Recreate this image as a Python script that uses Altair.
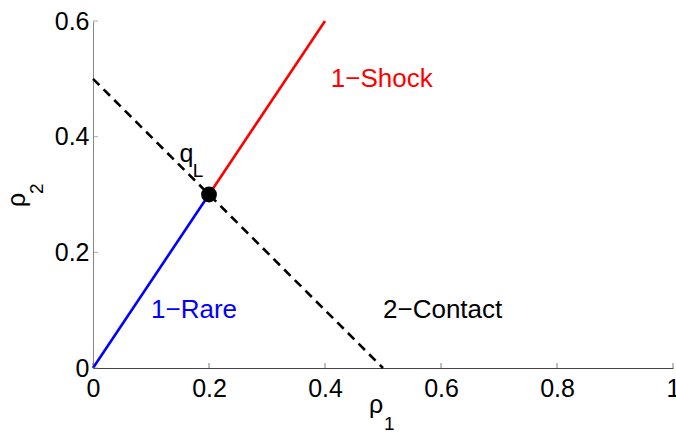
import altair as alt
import pandas as pd

# Wave curves through the left state q_L
rare_x = [0.0, 0.2]
rare_y = [0.0, 0.3]
shock_x = [0.2, 0.4]
shock_y = [0.3, 0.6]
contact_x = [0.0, 0.5]
contact_y = [0.5, 0.0]
state_x = [0.2]
state_y = [0.3]

x_ticks = [0, 0.2, 0.4, 0.6, 0.8, 1]
y_ticks = [0, 0.2, 0.4, 0.6]

label_text = ["1\u2212Shock", "1\u2212Rare", "2\u2212Contact"]
label_x = [0.41, 0.1, 0.5]
label_y = [0.5, 0.1, 0.1]
label_color = ["#ff0000", "#0000ff", "#000000"]

# q with subscript L
q_x, q_y = [0.149], [0.356]
sub_x, sub_y = [0.172], [0.33]

W, H = 580, 347
FONT = "Liberation Sans"
FS = 25
LFS = 26
SUB = 19

xs = alt.Scale(domain=[0, 1], nice=False, zero=False)
ys = alt.Scale(domain=[0, 0.6], nice=False, zero=False)

x_enc = alt.X(
    "x:Q", scale=xs,
    axis=alt.Axis(values=x_ticks, format="~g", ticks=False, grid=False, title=None,
                  labelFont=FONT, labelFontSize=FS, labelColor="black", labelPadding=8,
                  labelFlush=False, labelOverlap=False, domainColor="#444", domainWidth=1),
)
y_enc = alt.Y(
    "y:Q", scale=ys,
    axis=alt.Axis(values=y_ticks, format="~g", ticks=False, grid=False, title=None,
                  labelFont=FONT, labelFontSize=FS, labelColor="black", labelPadding=4,
                  labelFlush=False, labelOverlap=False, domainColor="#888", domainWidth=1),
)


def seg(xv, yv):
    return pd.DataFrame({"x": xv, "y": yv})


rare = alt.Chart(seg(rare_x, rare_y)).mark_line(color="#0000ff", strokeWidth=2.6).encode(x=x_enc, y=y_enc)
shock = alt.Chart(seg(shock_x, shock_y)).mark_line(color="#ff0000", strokeWidth=2.6).encode(x=x_enc, y=y_enc)
contact = alt.Chart(seg(contact_x, contact_y)).mark_line(
    color="black", strokeWidth=2.6, strokeDash=[9, 6]
).encode(x=x_enc, y=y_enc)
state = alt.Chart(seg(state_x, state_y)).mark_circle(color="black", opacity=1, size=250).encode(x=x_enc, y=y_enc)

labels = alt.Chart(pd.DataFrame({"x": label_x, "y": label_y, "t": label_text, "c": label_color})).mark_text(
    font=FONT, fontSize=LFS, align="left", baseline="middle"
).encode(x=x_enc, y=y_enc, text="t:N", color=alt.Color("c:N", scale=None))

q_mark = alt.Chart(seg(q_x, q_y)).mark_text(
    text="q", font=FONT, fontSize=FS, align="left", baseline="alphabetic", color="black"
).encode(x=x_enc, y=y_enc)
sub_mark = alt.Chart(seg(sub_x, sub_y)).mark_text(
    text="L", font=FONT, fontSize=SUB, align="left", baseline="alphabetic", color="black"
).encode(x=x_enc, y=y_enc)

# Inward tick marks on both axes
xt = alt.Chart(pd.DataFrame({"x": x_ticks})).mark_tick(color="#444", thickness=1, size=5).encode(
    x=x_enc, y=alt.value(H - 2.5)
)
yt = alt.Chart(pd.DataFrame({"y": y_ticks})).mark_tick(color="#888", thickness=1, size=5).encode(
    y=y_enc, x=alt.value(2.5)
)

one = pd.DataFrame({"k": [0]})
x_title = alt.Chart(one).mark_text(text="\u03c1", font=FONT, fontSize=FS, align="center",
                                   baseline="alphabetic", color="black").encode(
    x=alt.value(283), y=alt.value(392))
x_title_sub = alt.Chart(one).mark_text(text="1", font=FONT, fontSize=SUB, align="left",
                                       baseline="alphabetic", color="black").encode(
    x=alt.value(291), y=alt.value(409))
y_title = alt.Chart(one).mark_text(text="\u03c1", font=FONT, fontSize=FS, align="center",
                                   baseline="alphabetic", angle=270, color="black").encode(
    x=alt.value(-68), y=alt.value(179))
y_title_sub = alt.Chart(one).mark_text(text="2", font=FONT, fontSize=SUB, align="left",
                                       baseline="alphabetic", angle=270, color="black").encode(
    x=alt.value(-50), y=alt.value(173))

chart = alt.layer(
    rare, shock, contact, state, labels, q_mark, sub_mark, xt, yt,
    x_title, x_title_sub, y_title, y_title_sub,
).properties(
    width=W, height=H,
    autosize=alt.AutoSizeParams(type="none"),
    padding={"left": 93, "top": 21, "right": 3, "bottom": 66},
    background="white",
).configure_view(stroke=None)

chart.save("out.html", embed_options={"renderer": "svg", "actions": False})
